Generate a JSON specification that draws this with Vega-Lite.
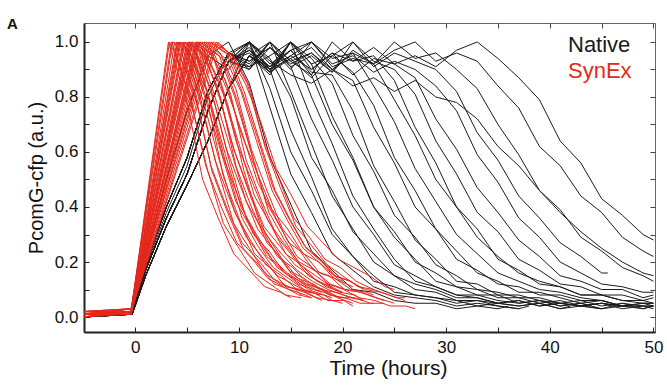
{
"$schema": "https://vega.github.io/schema/vega-lite/v6.json",
"width": 571, "height": 309,
"autosize": {"type": "none"},
"padding": {"left": 84, "top": 23, "right": 12, "bottom": 53},
"background": "white",
"config": {"font": "Liberation Sans", "view": {"stroke": "#666", "strokeWidth": 1}},
"title": {"text": "A", "anchor": "start", "frame": "group", "dx": -77, "dy": 21, "offset": 0, "baseline": "alphabetic", "fontSize": 15, "fontWeight": "bold", "color": "#111"},
"data": {"values": [
{"g":"N","c":1,"t":-5,"v":0.01},{"g":"N","c":1,"t":-0.3,"v":0.02},{"g":"N","c":1,"t":1,"v":0.22},{"g":"N","c":1,"t":3,"v":0.5},{"g":"N","c":1,"t":5,"v":0.75},{"g":"N","c":1,"t":7,"v":0.95},{"g":"N","c":1,"t":9,"v":1.0},{"g":"N","c":1,"t":11,"v":0.85},{"g":"N","c":1,"t":13,"v":0.58},{"g":"N","c":1,"t":15,"v":0.41},{"g":"N","c":1,"t":17,"v":0.24},{"g":"N","c":1,"t":19,"v":0.17},{"g":"N","c":1,"t":21,"v":0.1},{"g":"N","c":1,"t":23,"v":0.09},{"g":"N","c":1,"t":25,"v":0.06},{"g":"N","c":1,"t":27,"v":0.05},{"g":"N","c":1,"t":29,"v":0.05},{"g":"N","c":1,"t":31,"v":0.03},{"g":"N","c":1,"t":33,"v":0.04},{"g":"N","c":1,"t":35,"v":0.03},{"g":"N","c":1,"t":36,"v":0.04},
{"g":"N","c":2,"t":-5,"v":0.01},{"g":"N","c":2,"t":-0.3,"v":0.02},{"g":"N","c":2,"t":1,"v":0.17},{"g":"N","c":2,"t":3,"v":0.36},{"g":"N","c":2,"t":5,"v":0.52},{"g":"N","c":2,"t":7,"v":0.75},{"g":"N","c":2,"t":9,"v":0.93},{"g":"N","c":2,"t":11,"v":1.0},{"g":"N","c":2,"t":13,"v":0.76},{"g":"N","c":2,"t":15,"v":0.52},{"g":"N","c":2,"t":17,"v":0.38},{"g":"N","c":2,"t":19,"v":0.23},{"g":"N","c":2,"t":21,"v":0.17},{"g":"N","c":2,"t":23,"v":0.11},{"g":"N","c":2,"t":25,"v":0.08},{"g":"N","c":2,"t":27,"v":0.07},{"g":"N","c":2,"t":29,"v":0.06},{"g":"N","c":2,"t":31,"v":0.04},{"g":"N","c":2,"t":33,"v":0.05},{"g":"N","c":2,"t":35,"v":0.04},{"g":"N","c":2,"t":37,"v":0.03},{"g":"N","c":2,"t":38,"v":0.04},
{"g":"N","c":3,"t":-5,"v":0.02},{"g":"N","c":3,"t":-0.3,"v":0.02},{"g":"N","c":3,"t":1,"v":0.19},{"g":"N","c":3,"t":3,"v":0.4},{"g":"N","c":3,"t":5,"v":0.58},{"g":"N","c":3,"t":7,"v":0.82},{"g":"N","c":3,"t":9,"v":0.96},{"g":"N","c":3,"t":11,"v":1.0},{"g":"N","c":3,"t":13,"v":0.83},{"g":"N","c":3,"t":15,"v":0.6},{"g":"N","c":3,"t":17,"v":0.46},{"g":"N","c":3,"t":19,"v":0.3},{"g":"N","c":3,"t":21,"v":0.22},{"g":"N","c":3,"t":23,"v":0.13},{"g":"N","c":3,"t":25,"v":0.11},{"g":"N","c":3,"t":27,"v":0.08},{"g":"N","c":3,"t":29,"v":0.07},{"g":"N","c":3,"t":31,"v":0.06},{"g":"N","c":3,"t":33,"v":0.04},{"g":"N","c":3,"t":35,"v":0.05},{"g":"N","c":3,"t":37,"v":0.04},{"g":"N","c":3,"t":39,"v":0.05},{"g":"N","c":3,"t":41,"v":0.03},{"g":"N","c":3,"t":42,"v":0.04},
{"g":"N","c":4,"t":-5,"v":0.0},{"g":"N","c":4,"t":-0.3,"v":0.01},{"g":"N","c":4,"t":1,"v":0.15},{"g":"N","c":4,"t":3,"v":0.33},{"g":"N","c":4,"t":5,"v":0.48},{"g":"N","c":4,"t":7,"v":0.64},{"g":"N","c":4,"t":9,"v":0.83},{"g":"N","c":4,"t":11,"v":1.0},{"g":"N","c":4,"t":13,"v":0.9},{"g":"N","c":4,"t":15,"v":0.68},{"g":"N","c":4,"t":17,"v":0.51},{"g":"N","c":4,"t":19,"v":0.32},{"g":"N","c":4,"t":21,"v":0.22},{"g":"N","c":4,"t":23,"v":0.15},{"g":"N","c":4,"t":25,"v":0.09},{"g":"N","c":4,"t":27,"v":0.08},{"g":"N","c":4,"t":29,"v":0.07},{"g":"N","c":4,"t":31,"v":0.05},{"g":"N","c":4,"t":33,"v":0.06},{"g":"N","c":4,"t":35,"v":0.04},{"g":"N","c":4,"t":37,"v":0.03},
{"g":"N","c":5,"t":-5,"v":0.01},{"g":"N","c":5,"t":-0.3,"v":0.02},{"g":"N","c":5,"t":1,"v":0.17},{"g":"N","c":5,"t":3,"v":0.36},{"g":"N","c":5,"t":5,"v":0.52},{"g":"N","c":5,"t":7,"v":0.75},{"g":"N","c":5,"t":9,"v":0.93},{"g":"N","c":5,"t":11,"v":1.0},{"g":"N","c":5,"t":13,"v":0.94},{"g":"N","c":5,"t":15,"v":0.8},{"g":"N","c":5,"t":17,"v":0.58},{"g":"N","c":5,"t":19,"v":0.46},{"g":"N","c":5,"t":21,"v":0.31},{"g":"N","c":5,"t":23,"v":0.23},{"g":"N","c":5,"t":25,"v":0.15},{"g":"N","c":5,"t":27,"v":0.12},{"g":"N","c":5,"t":29,"v":0.1},{"g":"N","c":5,"t":31,"v":0.07},{"g":"N","c":5,"t":33,"v":0.07},{"g":"N","c":5,"t":35,"v":0.05},{"g":"N","c":5,"t":37,"v":0.06},{"g":"N","c":5,"t":39,"v":0.04},{"g":"N","c":5,"t":41,"v":0.05},{"g":"N","c":5,"t":43,"v":0.04},{"g":"N","c":5,"t":45,"v":0.03},
{"g":"N","c":6,"t":-5,"v":0.02},{"g":"N","c":6,"t":-0.3,"v":0.02},{"g":"N","c":6,"t":1,"v":0.19},{"g":"N","c":6,"t":3,"v":0.4},{"g":"N","c":6,"t":5,"v":0.58},{"g":"N","c":6,"t":7,"v":0.82},{"g":"N","c":6,"t":9,"v":0.96},{"g":"N","c":6,"t":11,"v":0.92},{"g":"N","c":6,"t":13,"v":1.0},{"g":"N","c":6,"t":15,"v":0.82},{"g":"N","c":6,"t":17,"v":0.63},{"g":"N","c":6,"t":19,"v":0.44},{"g":"N","c":6,"t":21,"v":0.32},{"g":"N","c":6,"t":23,"v":0.2},{"g":"N","c":6,"t":25,"v":0.15},{"g":"N","c":6,"t":27,"v":0.1},{"g":"N","c":6,"t":29,"v":0.09},{"g":"N","c":6,"t":31,"v":0.06},{"g":"N","c":6,"t":33,"v":0.06},{"g":"N","c":6,"t":35,"v":0.05},{"g":"N","c":6,"t":37,"v":0.04},{"g":"N","c":6,"t":39,"v":0.05},{"g":"N","c":6,"t":41,"v":0.03},{"g":"N","c":6,"t":43,"v":0.04},{"g":"N","c":6,"t":45,"v":0.05},{"g":"N","c":6,"t":47,"v":0.03},{"g":"N","c":6,"t":49,"v":0.04},{"g":"N","c":6,"t":50,"v":0.04},
{"g":"N","c":7,"t":-5,"v":0.0},{"g":"N","c":7,"t":-0.3,"v":0.01},{"g":"N","c":7,"t":1,"v":0.15},{"g":"N","c":7,"t":3,"v":0.33},{"g":"N","c":7,"t":5,"v":0.48},{"g":"N","c":7,"t":7,"v":0.64},{"g":"N","c":7,"t":9,"v":0.83},{"g":"N","c":7,"t":11,"v":0.95},{"g":"N","c":7,"t":13,"v":1.0},{"g":"N","c":7,"t":15,"v":0.91},{"g":"N","c":7,"t":17,"v":0.72},{"g":"N","c":7,"t":19,"v":0.57},{"g":"N","c":7,"t":21,"v":0.4},{"g":"N","c":7,"t":23,"v":0.3},{"g":"N","c":7,"t":25,"v":0.19},{"g":"N","c":7,"t":27,"v":0.15},{"g":"N","c":7,"t":29,"v":0.11},{"g":"N","c":7,"t":31,"v":0.08},{"g":"N","c":7,"t":33,"v":0.08},{"g":"N","c":7,"t":35,"v":0.06},{"g":"N","c":7,"t":37,"v":0.05},{"g":"N","c":7,"t":39,"v":0.06},{"g":"N","c":7,"t":41,"v":0.04},{"g":"N","c":7,"t":43,"v":0.05},{"g":"N","c":7,"t":45,"v":0.03},{"g":"N","c":7,"t":47,"v":0.04},{"g":"N","c":7,"t":48,"v":0.04},
{"g":"N","c":8,"t":-5,"v":0.01},{"g":"N","c":8,"t":-0.3,"v":0.02},{"g":"N","c":8,"t":1,"v":0.17},{"g":"N","c":8,"t":3,"v":0.36},{"g":"N","c":8,"t":5,"v":0.52},{"g":"N","c":8,"t":7,"v":0.75},{"g":"N","c":8,"t":9,"v":0.93},{"g":"N","c":8,"t":11,"v":0.97},{"g":"N","c":8,"t":13,"v":0.91},{"g":"N","c":8,"t":15,"v":1.0},{"g":"N","c":8,"t":17,"v":0.8},{"g":"N","c":8,"t":19,"v":0.63},{"g":"N","c":8,"t":21,"v":0.44},{"g":"N","c":8,"t":23,"v":0.32},{"g":"N","c":8,"t":25,"v":0.21},{"g":"N","c":8,"t":27,"v":0.13},{"g":"N","c":8,"t":29,"v":0.11},{"g":"N","c":8,"t":31,"v":0.08},{"g":"N","c":8,"t":33,"v":0.07},{"g":"N","c":8,"t":35,"v":0.05},{"g":"N","c":8,"t":37,"v":0.06},{"g":"N","c":8,"t":39,"v":0.04},{"g":"N","c":8,"t":41,"v":0.05},{"g":"N","c":8,"t":43,"v":0.04},{"g":"N","c":8,"t":45,"v":0.03},{"g":"N","c":8,"t":47,"v":0.05},{"g":"N","c":8,"t":49,"v":0.04},{"g":"N","c":8,"t":50,"v":0.04},
{"g":"N","c":9,"t":-5,"v":0.02},{"g":"N","c":9,"t":-0.3,"v":0.02},{"g":"N","c":9,"t":1,"v":0.19},{"g":"N","c":9,"t":3,"v":0.4},{"g":"N","c":9,"t":5,"v":0.58},{"g":"N","c":9,"t":7,"v":0.82},{"g":"N","c":9,"t":9,"v":0.96},{"g":"N","c":9,"t":11,"v":0.9},{"g":"N","c":9,"t":13,"v":1.0},{"g":"N","c":9,"t":15,"v":0.93},{"g":"N","c":9,"t":17,"v":0.88},{"g":"N","c":9,"t":19,"v":0.7},{"g":"N","c":9,"t":21,"v":0.57},{"g":"N","c":9,"t":23,"v":0.4},{"g":"N","c":9,"t":25,"v":0.31},{"g":"N","c":9,"t":27,"v":0.2},{"g":"N","c":9,"t":29,"v":0.16},{"g":"N","c":9,"t":31,"v":0.11},{"g":"N","c":9,"t":33,"v":0.1},{"g":"N","c":9,"t":35,"v":0.07},{"g":"N","c":9,"t":37,"v":0.07},{"g":"N","c":9,"t":39,"v":0.05},{"g":"N","c":9,"t":41,"v":0.06},{"g":"N","c":9,"t":43,"v":0.04},{"g":"N","c":9,"t":45,"v":0.05},{"g":"N","c":9,"t":47,"v":0.04},{"g":"N","c":9,"t":49,"v":0.03},{"g":"N","c":9,"t":50,"v":0.04},
{"g":"N","c":10,"t":-5,"v":0.0},{"g":"N","c":10,"t":-0.3,"v":0.01},{"g":"N","c":10,"t":1,"v":0.15},{"g":"N","c":10,"t":3,"v":0.33},{"g":"N","c":10,"t":5,"v":0.48},{"g":"N","c":10,"t":7,"v":0.64},{"g":"N","c":10,"t":9,"v":0.83},{"g":"N","c":10,"t":11,"v":0.95},{"g":"N","c":10,"t":13,"v":0.89},{"g":"N","c":10,"t":15,"v":1.0},{"g":"N","c":10,"t":17,"v":0.92},{"g":"N","c":10,"t":19,"v":0.73},{"g":"N","c":10,"t":21,"v":0.58},{"g":"N","c":10,"t":23,"v":0.4},{"g":"N","c":10,"t":25,"v":0.29},{"g":"N","c":10,"t":27,"v":0.21},{"g":"N","c":10,"t":29,"v":0.13},{"g":"N","c":10,"t":31,"v":0.11},{"g":"N","c":10,"t":33,"v":0.08},{"g":"N","c":10,"t":35,"v":0.08},{"g":"N","c":10,"t":37,"v":0.05},{"g":"N","c":10,"t":39,"v":0.06},{"g":"N","c":10,"t":41,"v":0.04},{"g":"N","c":10,"t":43,"v":0.05},{"g":"N","c":10,"t":44,"v":0.04},
{"g":"N","c":11,"t":-5,"v":0.01},{"g":"N","c":11,"t":-0.3,"v":0.02},{"g":"N","c":11,"t":1,"v":0.17},{"g":"N","c":11,"t":3,"v":0.36},{"g":"N","c":11,"t":5,"v":0.52},{"g":"N","c":11,"t":7,"v":0.75},{"g":"N","c":11,"t":9,"v":0.93},{"g":"N","c":11,"t":11,"v":0.98},{"g":"N","c":11,"t":13,"v":0.9},{"g":"N","c":11,"t":15,"v":1.0},{"g":"N","c":11,"t":17,"v":0.94},{"g":"N","c":11,"t":19,"v":0.85},{"g":"N","c":11,"t":21,"v":0.66},{"g":"N","c":11,"t":23,"v":0.53},{"g":"N","c":11,"t":25,"v":0.37},{"g":"N","c":11,"t":27,"v":0.29},{"g":"N","c":11,"t":29,"v":0.19},{"g":"N","c":11,"t":31,"v":0.15},{"g":"N","c":11,"t":33,"v":0.1},{"g":"N","c":11,"t":35,"v":0.09},{"g":"N","c":11,"t":37,"v":0.07},{"g":"N","c":11,"t":39,"v":0.07},{"g":"N","c":11,"t":41,"v":0.05},{"g":"N","c":11,"t":43,"v":0.06},{"g":"N","c":11,"t":45,"v":0.04},{"g":"N","c":11,"t":47,"v":0.05},{"g":"N","c":11,"t":49,"v":0.03},{"g":"N","c":11,"t":50,"v":0.04},
{"g":"N","c":12,"t":-5,"v":0.01},{"g":"N","c":12,"t":-0.3,"v":0.02},{"g":"N","c":12,"t":1,"v":0.22},{"g":"N","c":12,"t":3,"v":0.5},{"g":"N","c":12,"t":5,"v":0.75},{"g":"N","c":12,"t":7,"v":0.95},{"g":"N","c":12,"t":9,"v":0.9},{"g":"N","c":12,"t":11,"v":1.0},{"g":"N","c":12,"t":13,"v":0.92},{"g":"N","c":12,"t":15,"v":0.97},{"g":"N","c":12,"t":17,"v":0.89},{"g":"N","c":12,"t":19,"v":0.88},{"g":"N","c":12,"t":21,"v":0.75},{"g":"N","c":12,"t":23,"v":0.55},{"g":"N","c":12,"t":25,"v":0.42},{"g":"N","c":12,"t":27,"v":0.28},{"g":"N","c":12,"t":29,"v":0.21},{"g":"N","c":12,"t":31,"v":0.13},{"g":"N","c":12,"t":33,"v":0.12},{"g":"N","c":12,"t":35,"v":0.08},{"g":"N","c":12,"t":37,"v":0.08},{"g":"N","c":12,"t":39,"v":0.06},{"g":"N","c":12,"t":41,"v":0.05},{"g":"N","c":12,"t":43,"v":0.04},{"g":"N","c":12,"t":45,"v":0.05},{"g":"N","c":12,"t":47,"v":0.04},{"g":"N","c":12,"t":49,"v":0.04},{"g":"N","c":12,"t":50,"v":0.03},
{"g":"N","c":13,"t":-5,"v":0.01},{"g":"N","c":13,"t":-0.3,"v":0.02},{"g":"N","c":13,"t":1,"v":0.17},{"g":"N","c":13,"t":3,"v":0.36},{"g":"N","c":13,"t":5,"v":0.52},{"g":"N","c":13,"t":7,"v":0.75},{"g":"N","c":13,"t":9,"v":0.93},{"g":"N","c":13,"t":11,"v":0.91},{"g":"N","c":13,"t":13,"v":1.0},{"g":"N","c":13,"t":15,"v":0.93},{"g":"N","c":13,"t":17,"v":0.96},{"g":"N","c":13,"t":19,"v":0.9},{"g":"N","c":13,"t":21,"v":0.86},{"g":"N","c":13,"t":23,"v":0.69},{"g":"N","c":13,"t":25,"v":0.56},{"g":"N","c":13,"t":27,"v":0.4},{"g":"N","c":13,"t":29,"v":0.32},{"g":"N","c":13,"t":31,"v":0.21},{"g":"N","c":13,"t":33,"v":0.17},{"g":"N","c":13,"t":35,"v":0.12},{"g":"N","c":13,"t":37,"v":0.11},{"g":"N","c":13,"t":39,"v":0.08},{"g":"N","c":13,"t":41,"v":0.08},{"g":"N","c":13,"t":43,"v":0.06},{"g":"N","c":13,"t":45,"v":0.06},{"g":"N","c":13,"t":47,"v":0.04},{"g":"N","c":13,"t":49,"v":0.05},{"g":"N","c":13,"t":50,"v":0.05},
{"g":"N","c":14,"t":-5,"v":0.0},{"g":"N","c":14,"t":-0.3,"v":0.01},{"g":"N","c":14,"t":1,"v":0.15},{"g":"N","c":14,"t":3,"v":0.33},{"g":"N","c":14,"t":5,"v":0.48},{"g":"N","c":14,"t":7,"v":0.64},{"g":"N","c":14,"t":9,"v":0.83},{"g":"N","c":14,"t":11,"v":0.95},{"g":"N","c":14,"t":13,"v":0.88},{"g":"N","c":14,"t":15,"v":1.0},{"g":"N","c":14,"t":17,"v":0.92},{"g":"N","c":14,"t":19,"v":0.95},{"g":"N","c":14,"t":21,"v":0.89},{"g":"N","c":14,"t":23,"v":0.77},{"g":"N","c":14,"t":25,"v":0.58},{"g":"N","c":14,"t":27,"v":0.46},{"g":"N","c":14,"t":29,"v":0.32},{"g":"N","c":14,"t":31,"v":0.24},{"g":"N","c":14,"t":33,"v":0.16},{"g":"N","c":14,"t":35,"v":0.13},{"g":"N","c":14,"t":37,"v":0.09},{"g":"N","c":14,"t":39,"v":0.09},{"g":"N","c":14,"t":41,"v":0.07},{"g":"N","c":14,"t":43,"v":0.05},{"g":"N","c":14,"t":45,"v":0.06},{"g":"N","c":14,"t":47,"v":0.04},{"g":"N","c":14,"t":49,"v":0.05},{"g":"N","c":14,"t":50,"v":0.04},
{"g":"N","c":15,"t":-5,"v":0.02},{"g":"N","c":15,"t":-0.3,"v":0.02},{"g":"N","c":15,"t":1,"v":0.19},{"g":"N","c":15,"t":3,"v":0.4},{"g":"N","c":15,"t":5,"v":0.58},{"g":"N","c":15,"t":7,"v":0.82},{"g":"N","c":15,"t":9,"v":0.96},{"g":"N","c":15,"t":11,"v":0.93},{"g":"N","c":15,"t":13,"v":0.98},{"g":"N","c":15,"t":15,"v":0.9},{"g":"N","c":15,"t":17,"v":1.0},{"g":"N","c":15,"t":19,"v":0.94},{"g":"N","c":15,"t":21,"v":0.96},{"g":"N","c":15,"t":23,"v":0.84},{"g":"N","c":15,"t":25,"v":0.71},{"g":"N","c":15,"t":27,"v":0.54},{"g":"N","c":15,"t":29,"v":0.42},{"g":"N","c":15,"t":31,"v":0.3},{"g":"N","c":15,"t":33,"v":0.23},{"g":"N","c":15,"t":35,"v":0.16},{"g":"N","c":15,"t":37,"v":0.13},{"g":"N","c":15,"t":39,"v":0.1},{"g":"N","c":15,"t":41,"v":0.09},{"g":"N","c":15,"t":43,"v":0.07},{"g":"N","c":15,"t":45,"v":0.06},{"g":"N","c":15,"t":46,"v":0.05},
{"g":"N","c":16,"t":-5,"v":0.01},{"g":"N","c":16,"t":-0.3,"v":0.02},{"g":"N","c":16,"t":1,"v":0.17},{"g":"N","c":16,"t":3,"v":0.36},{"g":"N","c":16,"t":5,"v":0.52},{"g":"N","c":16,"t":7,"v":0.75},{"g":"N","c":16,"t":9,"v":0.93},{"g":"N","c":16,"t":11,"v":0.97},{"g":"N","c":16,"t":13,"v":0.89},{"g":"N","c":16,"t":15,"v":0.95},{"g":"N","c":16,"t":17,"v":1.0},{"g":"N","c":16,"t":19,"v":0.91},{"g":"N","c":16,"t":21,"v":0.94},{"g":"N","c":16,"t":23,"v":0.92},{"g":"N","c":16,"t":25,"v":0.79},{"g":"N","c":16,"t":27,"v":0.66},{"g":"N","c":16,"t":29,"v":0.5},{"g":"N","c":16,"t":31,"v":0.4},{"g":"N","c":16,"t":33,"v":0.29},{"g":"N","c":16,"t":35,"v":0.22},{"g":"N","c":16,"t":37,"v":0.16},{"g":"N","c":16,"t":39,"v":0.13},{"g":"N","c":16,"t":41,"v":0.11},{"g":"N","c":16,"t":43,"v":0.08},{"g":"N","c":16,"t":45,"v":0.08},{"g":"N","c":16,"t":47,"v":0.06},{"g":"N","c":16,"t":49,"v":0.06},{"g":"N","c":16,"t":50,"v":0.05},
{"g":"N","c":17,"t":-5,"v":0.0},{"g":"N","c":17,"t":-0.3,"v":0.01},{"g":"N","c":17,"t":1,"v":0.15},{"g":"N","c":17,"t":3,"v":0.33},{"g":"N","c":17,"t":5,"v":0.48},{"g":"N","c":17,"t":7,"v":0.64},{"g":"N","c":17,"t":9,"v":0.83},{"g":"N","c":17,"t":11,"v":0.95},{"g":"N","c":17,"t":13,"v":0.9},{"g":"N","c":17,"t":15,"v":0.97},{"g":"N","c":17,"t":17,"v":0.88},{"g":"N","c":17,"t":19,"v":1.0},{"g":"N","c":17,"t":21,"v":0.93},{"g":"N","c":17,"t":23,"v":0.95},{"g":"N","c":17,"t":25,"v":0.86},{"g":"N","c":17,"t":27,"v":0.69},{"g":"N","c":17,"t":29,"v":0.56},{"g":"N","c":17,"t":31,"v":0.4},{"g":"N","c":17,"t":33,"v":0.32},{"g":"N","c":17,"t":35,"v":0.21},{"g":"N","c":17,"t":37,"v":0.17},{"g":"N","c":17,"t":39,"v":0.12},{"g":"N","c":17,"t":41,"v":0.11},{"g":"N","c":17,"t":43,"v":0.08},{"g":"N","c":17,"t":45,"v":0.08},{"g":"N","c":17,"t":47,"v":0.06},{"g":"N","c":17,"t":49,"v":0.05},{"g":"N","c":17,"t":50,"v":0.05},
{"g":"N","c":18,"t":-5,"v":0.01},{"g":"N","c":18,"t":-0.3,"v":0.02},{"g":"N","c":18,"t":1,"v":0.17},{"g":"N","c":18,"t":3,"v":0.36},{"g":"N","c":18,"t":5,"v":0.52},{"g":"N","c":18,"t":7,"v":0.75},{"g":"N","c":18,"t":9,"v":0.93},{"g":"N","c":18,"t":11,"v":0.9},{"g":"N","c":18,"t":13,"v":0.98},{"g":"N","c":18,"t":15,"v":0.92},{"g":"N","c":18,"t":17,"v":0.96},{"g":"N","c":18,"t":19,"v":0.89},{"g":"N","c":18,"t":21,"v":1.0},{"g":"N","c":18,"t":23,"v":0.93},{"g":"N","c":18,"t":25,"v":0.9},{"g":"N","c":18,"t":27,"v":0.81},{"g":"N","c":18,"t":29,"v":0.64},{"g":"N","c":18,"t":31,"v":0.52},{"g":"N","c":18,"t":33,"v":0.38},{"g":"N","c":18,"t":35,"v":0.31},{"g":"N","c":18,"t":37,"v":0.21},{"g":"N","c":18,"t":39,"v":0.17},{"g":"N","c":18,"t":41,"v":0.12},{"g":"N","c":18,"t":43,"v":0.11},{"g":"N","c":18,"t":45,"v":0.08},{"g":"N","c":18,"t":47,"v":0.08},{"g":"N","c":18,"t":49,"v":0.06},{"g":"N","c":18,"t":50,"v":0.07},
{"g":"N","c":19,"t":-5,"v":0.02},{"g":"N","c":19,"t":-0.3,"v":0.02},{"g":"N","c":19,"t":1,"v":0.19},{"g":"N","c":19,"t":3,"v":0.4},{"g":"N","c":19,"t":5,"v":0.58},{"g":"N","c":19,"t":7,"v":0.82},{"g":"N","c":19,"t":9,"v":0.96},{"g":"N","c":19,"t":11,"v":0.91},{"g":"N","c":19,"t":13,"v":0.95},{"g":"N","c":19,"t":15,"v":1.0},{"g":"N","c":19,"t":17,"v":0.9},{"g":"N","c":19,"t":19,"v":0.96},{"g":"N","c":19,"t":21,"v":0.88},{"g":"N","c":19,"t":23,"v":0.94},{"g":"N","c":19,"t":25,"v":0.92},{"g":"N","c":19,"t":27,"v":0.87},{"g":"N","c":19,"t":29,"v":0.72},{"g":"N","c":19,"t":31,"v":0.61},{"g":"N","c":19,"t":33,"v":0.47},{"g":"N","c":19,"t":35,"v":0.38},{"g":"N","c":19,"t":37,"v":0.28},{"g":"N","c":19,"t":39,"v":0.22},{"g":"N","c":19,"t":41,"v":0.15},{"g":"N","c":19,"t":43,"v":0.13},{"g":"N","c":19,"t":45,"v":0.1},{"g":"N","c":19,"t":47,"v":0.1},{"g":"N","c":19,"t":49,"v":0.07},{"g":"N","c":19,"t":50,"v":0.08},
{"g":"N","c":20,"t":-5,"v":0.0},{"g":"N","c":20,"t":-0.3,"v":0.01},{"g":"N","c":20,"t":1,"v":0.15},{"g":"N","c":20,"t":3,"v":0.33},{"g":"N","c":20,"t":5,"v":0.48},{"g":"N","c":20,"t":7,"v":0.64},{"g":"N","c":20,"t":9,"v":0.83},{"g":"N","c":20,"t":11,"v":0.95},{"g":"N","c":20,"t":13,"v":0.91},{"g":"N","c":20,"t":15,"v":0.97},{"g":"N","c":20,"t":17,"v":1.0},{"g":"N","c":20,"t":19,"v":0.92},{"g":"N","c":20,"t":21,"v":0.95},{"g":"N","c":20,"t":23,"v":0.89},{"g":"N","c":20,"t":25,"v":0.93},{"g":"N","c":20,"t":27,"v":0.9},{"g":"N","c":20,"t":29,"v":0.84},{"g":"N","c":20,"t":31,"v":0.75},{"g":"N","c":20,"t":33,"v":0.59},{"g":"N","c":20,"t":35,"v":0.49},{"g":"N","c":20,"t":37,"v":0.36},{"g":"N","c":20,"t":39,"v":0.29},{"g":"N","c":20,"t":41,"v":0.2},{"g":"N","c":20,"t":43,"v":0.16},{"g":"N","c":20,"t":45,"v":0.12},{"g":"N","c":20,"t":47,"v":0.11},{"g":"N","c":20,"t":49,"v":0.09},{"g":"N","c":20,"t":50,"v":0.09},
{"g":"N","c":21,"t":-5,"v":0.01},{"g":"N","c":21,"t":-0.3,"v":0.02},{"g":"N","c":21,"t":1,"v":0.17},{"g":"N","c":21,"t":3,"v":0.36},{"g":"N","c":21,"t":5,"v":0.52},{"g":"N","c":21,"t":7,"v":0.75},{"g":"N","c":21,"t":9,"v":0.93},{"g":"N","c":21,"t":11,"v":0.96},{"g":"N","c":21,"t":13,"v":0.9},{"g":"N","c":21,"t":15,"v":0.94},{"g":"N","c":21,"t":17,"v":0.87},{"g":"N","c":21,"t":19,"v":0.95},{"g":"N","c":21,"t":21,"v":1.0},{"g":"N","c":21,"t":23,"v":0.91},{"g":"N","c":21,"t":25,"v":0.96},{"g":"N","c":21,"t":27,"v":0.93},{"g":"N","c":21,"t":29,"v":0.9},{"g":"N","c":21,"t":31,"v":0.82},{"g":"N","c":21,"t":33,"v":0.67},{"g":"N","c":21,"t":35,"v":0.57},{"g":"N","c":21,"t":37,"v":0.44},{"g":"N","c":21,"t":39,"v":0.36},{"g":"N","c":21,"t":41,"v":0.27},{"g":"N","c":21,"t":43,"v":0.22},{"g":"N","c":21,"t":45,"v":0.16},{"g":"N","c":21,"t":45.6,"v":0.16},
{"g":"N","c":22,"t":-5,"v":0.02},{"g":"N","c":22,"t":-0.3,"v":0.02},{"g":"N","c":22,"t":1,"v":0.19},{"g":"N","c":22,"t":3,"v":0.4},{"g":"N","c":22,"t":5,"v":0.58},{"g":"N","c":22,"t":7,"v":0.82},{"g":"N","c":22,"t":9,"v":0.96},{"g":"N","c":22,"t":11,"v":0.93},{"g":"N","c":22,"t":13,"v":0.98},{"g":"N","c":22,"t":15,"v":0.91},{"g":"N","c":22,"t":17,"v":0.95},{"g":"N","c":22,"t":19,"v":0.89},{"g":"N","c":22,"t":21,"v":0.97},{"g":"N","c":22,"t":23,"v":0.92},{"g":"N","c":22,"t":25,"v":1.0},{"g":"N","c":22,"t":27,"v":0.94},{"g":"N","c":22,"t":29,"v":0.96},{"g":"N","c":22,"t":31,"v":0.9},{"g":"N","c":22,"t":33,"v":0.83},{"g":"N","c":22,"t":35,"v":0.7},{"g":"N","c":22,"t":37,"v":0.59},{"g":"N","c":22,"t":39,"v":0.46},{"g":"N","c":22,"t":41,"v":0.39},{"g":"N","c":22,"t":43,"v":0.29},{"g":"N","c":22,"t":45,"v":0.24},{"g":"N","c":22,"t":47,"v":0.18},{"g":"N","c":22,"t":49,"v":0.15},{"g":"N","c":22,"t":50,"v":0.13},
{"g":"N","c":23,"t":-5,"v":0.0},{"g":"N","c":23,"t":-0.3,"v":0.01},{"g":"N","c":23,"t":1,"v":0.15},{"g":"N","c":23,"t":3,"v":0.33},{"g":"N","c":23,"t":5,"v":0.48},{"g":"N","c":23,"t":7,"v":0.64},{"g":"N","c":23,"t":9,"v":0.83},{"g":"N","c":23,"t":11,"v":0.95},{"g":"N","c":23,"t":13,"v":0.89},{"g":"N","c":23,"t":15,"v":0.94},{"g":"N","c":23,"t":17,"v":0.98},{"g":"N","c":23,"t":19,"v":0.9},{"g":"N","c":23,"t":21,"v":0.96},{"g":"N","c":23,"t":23,"v":0.92},{"g":"N","c":23,"t":25,"v":0.97},{"g":"N","c":23,"t":27,"v":1.0},{"g":"N","c":23,"t":29,"v":0.93},{"g":"N","c":23,"t":31,"v":0.96},{"g":"N","c":23,"t":33,"v":0.93},{"g":"N","c":23,"t":35,"v":0.84},{"g":"N","c":23,"t":37,"v":0.76},{"g":"N","c":23,"t":39,"v":0.62},{"g":"N","c":23,"t":41,"v":0.55},{"g":"N","c":23,"t":43,"v":0.44},{"g":"N","c":23,"t":45,"v":0.38},{"g":"N","c":23,"t":47,"v":0.29},{"g":"N","c":23,"t":49,"v":0.24},{"g":"N","c":23,"t":50,"v":0.22},
{"g":"N","c":24,"t":-5,"v":0.01},{"g":"N","c":24,"t":-0.3,"v":0.02},{"g":"N","c":24,"t":1,"v":0.17},{"g":"N","c":24,"t":3,"v":0.36},{"g":"N","c":24,"t":5,"v":0.52},{"g":"N","c":24,"t":7,"v":0.75},{"g":"N","c":24,"t":9,"v":0.93},{"g":"N","c":24,"t":11,"v":0.97},{"g":"N","c":24,"t":13,"v":0.91},{"g":"N","c":24,"t":15,"v":0.95},{"g":"N","c":24,"t":17,"v":0.9},{"g":"N","c":24,"t":19,"v":0.96},{"g":"N","c":24,"t":21,"v":0.93},{"g":"N","c":24,"t":23,"v":0.98},{"g":"N","c":24,"t":25,"v":0.92},{"g":"N","c":24,"t":27,"v":0.95},{"g":"N","c":24,"t":29,"v":0.91},{"g":"N","c":24,"t":31,"v":0.97},{"g":"N","c":24,"t":33,"v":1.0},{"g":"N","c":24,"t":35,"v":0.94},{"g":"N","c":24,"t":37,"v":0.87},{"g":"N","c":24,"t":39,"v":0.79},{"g":"N","c":24,"t":41,"v":0.64},{"g":"N","c":24,"t":43,"v":0.56},{"g":"N","c":24,"t":45,"v":0.43},{"g":"N","c":24,"t":47,"v":0.37},{"g":"N","c":24,"t":49,"v":0.3},{"g":"N","c":24,"t":50,"v":0.28},
{"g":"N","c":25,"t":-5,"v":0.01},{"g":"N","c":25,"t":-0.3,"v":0.02},{"g":"N","c":25,"t":1,"v":0.18},{"g":"N","c":25,"t":3,"v":0.38},{"g":"N","c":25,"t":5,"v":0.55},{"g":"N","c":25,"t":7,"v":0.8},{"g":"N","c":25,"t":9,"v":0.95},{"g":"N","c":25,"t":11,"v":1.0},{"g":"N","c":25,"t":13,"v":0.93},{"g":"N","c":25,"t":15,"v":0.88},{"g":"N","c":25,"t":17,"v":0.85},{"g":"N","c":25,"t":19,"v":0.9},{"g":"N","c":25,"t":21,"v":0.84},{"g":"N","c":25,"t":23,"v":0.87},{"g":"N","c":25,"t":25,"v":0.82},{"g":"N","c":25,"t":27,"v":0.86},{"g":"N","c":25,"t":29,"v":0.8},{"g":"N","c":25,"t":31,"v":0.78},{"g":"N","c":25,"t":33,"v":0.72},{"g":"N","c":25,"t":35,"v":0.62},{"g":"N","c":25,"t":37,"v":0.55},{"g":"N","c":25,"t":39,"v":0.46},{"g":"N","c":25,"t":41,"v":0.38},{"g":"N","c":25,"t":43,"v":0.31},{"g":"N","c":25,"t":45,"v":0.25},{"g":"N","c":25,"t":47,"v":0.2},{"g":"N","c":25,"t":49,"v":0.16},{"g":"N","c":25,"t":50,"v":0.15},
{"g":"S","c":101,"t":-5,"v":0.01},{"g":"S","c":101,"t":-0.4,"v":0.02},{"g":"S","c":101,"t":3.2,"v":1.0},{"g":"S","c":101,"t":3.5,"v":0.96},{"g":"S","c":101,"t":5,"v":0.78},{"g":"S","c":101,"t":6.5,"v":0.5},{"g":"S","c":101,"t":8,"v":0.36},{"g":"S","c":101,"t":9.5,"v":0.23},{"g":"S","c":101,"t":11,"v":0.17},{"g":"S","c":101,"t":12.5,"v":0.11},{"g":"S","c":101,"t":14,"v":0.09},{"g":"S","c":101,"t":15,"v":0.07},
{"g":"S","c":102,"t":-5,"v":0.0},{"g":"S","c":102,"t":-0.4,"v":0.03},{"g":"S","c":102,"t":3.5,"v":1.0},{"g":"S","c":102,"t":4,"v":0.95},{"g":"S","c":102,"t":5.5,"v":0.76},{"g":"S","c":102,"t":7,"v":0.53},{"g":"S","c":102,"t":8.5,"v":0.34},{"g":"S","c":102,"t":10,"v":0.25},{"g":"S","c":102,"t":11.5,"v":0.16},{"g":"S","c":102,"t":13,"v":0.12},{"g":"S","c":102,"t":14.5,"v":0.08},{"g":"S","c":102,"t":16,"v":0.07},
{"g":"S","c":103,"t":-5,"v":0.02},{"g":"S","c":103,"t":-0.4,"v":0.02},{"g":"S","c":103,"t":3.6,"v":1.0},{"g":"S","c":103,"t":4.4,"v":0.97},{"g":"S","c":103,"t":5.9,"v":0.79},{"g":"S","c":103,"t":7.4,"v":0.53},{"g":"S","c":103,"t":8.9,"v":0.38},{"g":"S","c":103,"t":10.4,"v":0.25},{"g":"S","c":103,"t":11.9,"v":0.19},{"g":"S","c":103,"t":13.4,"v":0.12},{"g":"S","c":103,"t":14.9,"v":0.1},{"g":"S","c":103,"t":16.4,"v":0.08},{"g":"S","c":103,"t":17,"v":0.07},
{"g":"S","c":104,"t":-5,"v":0.01},{"g":"S","c":104,"t":-0.4,"v":0.01},{"g":"S","c":104,"t":3.8,"v":1.0},{"g":"S","c":104,"t":4.3,"v":0.95},{"g":"S","c":104,"t":5.8,"v":0.8},{"g":"S","c":104,"t":7.3,"v":0.55},{"g":"S","c":104,"t":8.8,"v":0.4},{"g":"S","c":104,"t":10.3,"v":0.27},{"g":"S","c":104,"t":11.8,"v":0.21},{"g":"S","c":104,"t":13.3,"v":0.14},{"g":"S","c":104,"t":14.8,"v":0.11},{"g":"S","c":104,"t":16.3,"v":0.09},{"g":"S","c":104,"t":18,"v":0.06},
{"g":"S","c":105,"t":-5,"v":0.01},{"g":"S","c":105,"t":-0.4,"v":0.02},{"g":"S","c":105,"t":4,"v":1.0},{"g":"S","c":105,"t":5,"v":0.96},{"g":"S","c":105,"t":6.5,"v":0.75},{"g":"S","c":105,"t":8,"v":0.53},{"g":"S","c":105,"t":9.5,"v":0.34},{"g":"S","c":105,"t":11,"v":0.25},{"g":"S","c":105,"t":12.5,"v":0.16},{"g":"S","c":105,"t":14,"v":0.12},{"g":"S","c":105,"t":15.5,"v":0.1},{"g":"S","c":105,"t":16,"v":0.08},
{"g":"S","c":106,"t":-5,"v":0.02},{"g":"S","c":106,"t":-0.4,"v":0.03},{"g":"S","c":106,"t":4.1,"v":1.0},{"g":"S","c":106,"t":4.7,"v":0.96},{"g":"S","c":106,"t":6.2,"v":0.81},{"g":"S","c":106,"t":7.7,"v":0.57},{"g":"S","c":106,"t":9.2,"v":0.42},{"g":"S","c":106,"t":10.7,"v":0.29},{"g":"S","c":106,"t":12.2,"v":0.22},{"g":"S","c":106,"t":13.7,"v":0.15},{"g":"S","c":106,"t":15.2,"v":0.12},{"g":"S","c":106,"t":16.7,"v":0.09},{"g":"S","c":106,"t":18.2,"v":0.08},{"g":"S","c":106,"t":19,"v":0.06},
{"g":"S","c":107,"t":-5,"v":0.01},{"g":"S","c":107,"t":-0.4,"v":0.02},{"g":"S","c":107,"t":4.3,"v":1.0},{"g":"S","c":107,"t":5.5,"v":0.95},{"g":"S","c":107,"t":7,"v":0.78},{"g":"S","c":107,"t":8.5,"v":0.51},{"g":"S","c":107,"t":10,"v":0.36},{"g":"S","c":107,"t":11.5,"v":0.23},{"g":"S","c":107,"t":13,"v":0.18},{"g":"S","c":107,"t":14.5,"v":0.11},{"g":"S","c":107,"t":16,"v":0.1},{"g":"S","c":107,"t":17.5,"v":0.07},{"g":"S","c":107,"t":19,"v":0.06},{"g":"S","c":107,"t":20,"v":0.05},
{"g":"S","c":108,"t":-5,"v":0.0},{"g":"S","c":108,"t":-0.4,"v":0.02},{"g":"S","c":108,"t":4.4,"v":1.0},{"g":"S","c":108,"t":5.2,"v":0.97},{"g":"S","c":108,"t":6.7,"v":0.8},{"g":"S","c":108,"t":8.2,"v":0.61},{"g":"S","c":108,"t":9.7,"v":0.42},{"g":"S","c":108,"t":11.2,"v":0.32},{"g":"S","c":108,"t":12.7,"v":0.22},{"g":"S","c":108,"t":14.2,"v":0.17},{"g":"S","c":108,"t":15.7,"v":0.12},{"g":"S","c":108,"t":17.2,"v":0.1},{"g":"S","c":108,"t":18,"v":0.09},
{"g":"S","c":109,"t":-5,"v":0.02},{"g":"S","c":109,"t":-0.4,"v":0.01},{"g":"S","c":109,"t":4.6,"v":1.0},{"g":"S","c":109,"t":5.1,"v":0.96},{"g":"S","c":109,"t":6.6,"v":0.78},{"g":"S","c":109,"t":8.1,"v":0.57},{"g":"S","c":109,"t":9.6,"v":0.38},{"g":"S","c":109,"t":11.1,"v":0.28},{"g":"S","c":109,"t":12.6,"v":0.19},{"g":"S","c":109,"t":14.1,"v":0.15},{"g":"S","c":109,"t":15.6,"v":0.1},{"g":"S","c":109,"t":17.1,"v":0.09},{"g":"S","c":109,"t":18.6,"v":0.06},{"g":"S","c":109,"t":20.1,"v":0.06},{"g":"S","c":109,"t":21,"v":0.04},
{"g":"S","c":110,"t":-5,"v":0.01},{"g":"S","c":110,"t":-0.4,"v":0.03},{"g":"S","c":110,"t":4.7,"v":1.0},{"g":"S","c":110,"t":6.2,"v":0.94},{"g":"S","c":110,"t":7.7,"v":0.77},{"g":"S","c":110,"t":9.2,"v":0.55},{"g":"S","c":110,"t":10.7,"v":0.36},{"g":"S","c":110,"t":12.2,"v":0.26},{"g":"S","c":110,"t":13.7,"v":0.18},{"g":"S","c":110,"t":15.2,"v":0.14},{"g":"S","c":110,"t":16.7,"v":0.1},{"g":"S","c":110,"t":18.2,"v":0.08},{"g":"S","c":110,"t":19,"v":0.07},
{"g":"S","c":111,"t":-5,"v":0.01},{"g":"S","c":111,"t":-0.4,"v":0.02},{"g":"S","c":111,"t":4.8,"v":1.0},{"g":"S","c":111,"t":5.8,"v":0.96},{"g":"S","c":111,"t":7.3,"v":0.83},{"g":"S","c":111,"t":8.8,"v":0.61},{"g":"S","c":111,"t":10.3,"v":0.46},{"g":"S","c":111,"t":11.8,"v":0.32},{"g":"S","c":111,"t":13.3,"v":0.25},{"g":"S","c":111,"t":14.8,"v":0.17},{"g":"S","c":111,"t":16.3,"v":0.14},{"g":"S","c":111,"t":17.8,"v":0.1},{"g":"S","c":111,"t":19.3,"v":0.09},{"g":"S","c":111,"t":20.8,"v":0.07},{"g":"S","c":111,"t":22,"v":0.06},
{"g":"S","c":112,"t":-5,"v":0.02},{"g":"S","c":112,"t":-0.4,"v":0.02},{"g":"S","c":112,"t":5,"v":1.0},{"g":"S","c":112,"t":5.7,"v":0.97},{"g":"S","c":112,"t":7.2,"v":0.79},{"g":"S","c":112,"t":8.7,"v":0.59},{"g":"S","c":112,"t":10.2,"v":0.4},{"g":"S","c":112,"t":11.7,"v":0.3},{"g":"S","c":112,"t":13.2,"v":0.21},{"g":"S","c":112,"t":14.7,"v":0.16},{"g":"S","c":112,"t":16.2,"v":0.12},{"g":"S","c":112,"t":17,"v":0.1},
{"g":"S","c":113,"t":-5,"v":0.01},{"g":"S","c":113,"t":-0.4,"v":0.01},{"g":"S","c":113,"t":5.1,"v":1.0},{"g":"S","c":113,"t":6.7,"v":0.95},{"g":"S","c":113,"t":8.2,"v":0.8},{"g":"S","c":113,"t":9.7,"v":0.55},{"g":"S","c":113,"t":11.2,"v":0.4},{"g":"S","c":113,"t":12.7,"v":0.27},{"g":"S","c":113,"t":14.2,"v":0.21},{"g":"S","c":113,"t":15.7,"v":0.14},{"g":"S","c":113,"t":17.2,"v":0.12},{"g":"S","c":113,"t":18.7,"v":0.08},{"g":"S","c":113,"t":20.2,"v":0.07},{"g":"S","c":113,"t":21.7,"v":0.05},{"g":"S","c":113,"t":23,"v":0.05},
{"g":"S","c":114,"t":-5,"v":0.0},{"g":"S","c":114,"t":-0.4,"v":0.02},{"g":"S","c":114,"t":5.2,"v":1.0},{"g":"S","c":114,"t":6.4,"v":0.96},{"g":"S","c":114,"t":7.9,"v":0.84},{"g":"S","c":114,"t":9.4,"v":0.62},{"g":"S","c":114,"t":10.9,"v":0.47},{"g":"S","c":114,"t":12.4,"v":0.33},{"g":"S","c":114,"t":13.9,"v":0.26},{"g":"S","c":114,"t":15.4,"v":0.19},{"g":"S","c":114,"t":16.9,"v":0.15},{"g":"S","c":114,"t":18.4,"v":0.11},{"g":"S","c":114,"t":20,"v":0.09},
{"g":"S","c":115,"t":-5,"v":0.01},{"g":"S","c":115,"t":-0.4,"v":0.02},{"g":"S","c":115,"t":5.4,"v":1.0},{"g":"S","c":115,"t":6.2,"v":0.97},{"g":"S","c":115,"t":7.7,"v":0.8},{"g":"S","c":115,"t":9.2,"v":0.61},{"g":"S","c":115,"t":10.7,"v":0.42},{"g":"S","c":115,"t":12.2,"v":0.32},{"g":"S","c":115,"t":13.7,"v":0.22},{"g":"S","c":115,"t":15.2,"v":0.18},{"g":"S","c":115,"t":16.7,"v":0.12},{"g":"S","c":115,"t":18.2,"v":0.1},{"g":"S","c":115,"t":19.7,"v":0.07},{"g":"S","c":115,"t":21.2,"v":0.07},{"g":"S","c":115,"t":22.7,"v":0.05},{"g":"S","c":115,"t":24,"v":0.05},
{"g":"S","c":116,"t":-5,"v":0.02},{"g":"S","c":116,"t":-0.4,"v":0.03},{"g":"S","c":116,"t":5.5,"v":1.0},{"g":"S","c":116,"t":7.5,"v":0.95},{"g":"S","c":116,"t":9,"v":0.76},{"g":"S","c":116,"t":10.5,"v":0.53},{"g":"S","c":116,"t":12,"v":0.34},{"g":"S","c":116,"t":13.5,"v":0.25},{"g":"S","c":116,"t":15,"v":0.16},{"g":"S","c":116,"t":16.5,"v":0.12},{"g":"S","c":116,"t":18,"v":0.1},{"g":"S","c":116,"t":19.5,"v":0.07},{"g":"S","c":116,"t":21,"v":0.05},
{"g":"S","c":117,"t":-5,"v":0.01},{"g":"S","c":117,"t":-0.4,"v":0.02},{"g":"S","c":117,"t":5.6,"v":1.0},{"g":"S","c":117,"t":7,"v":0.94},{"g":"S","c":117,"t":8.5,"v":0.81},{"g":"S","c":117,"t":10,"v":0.63},{"g":"S","c":117,"t":11.5,"v":0.44},{"g":"S","c":117,"t":13,"v":0.34},{"g":"S","c":117,"t":14.5,"v":0.23},{"g":"S","c":117,"t":16,"v":0.19},{"g":"S","c":117,"t":17.5,"v":0.13},{"g":"S","c":117,"t":19,"v":0.11},
{"g":"S","c":118,"t":-5,"v":0.02},{"g":"S","c":118,"t":-0.4,"v":0.01},{"g":"S","c":118,"t":5.8,"v":1.0},{"g":"S","c":118,"t":6.8,"v":0.96},{"g":"S","c":118,"t":8.3,"v":0.84},{"g":"S","c":118,"t":9.8,"v":0.63},{"g":"S","c":118,"t":11.3,"v":0.49},{"g":"S","c":118,"t":12.8,"v":0.35},{"g":"S","c":118,"t":14.3,"v":0.27},{"g":"S","c":118,"t":15.8,"v":0.2},{"g":"S","c":118,"t":17.3,"v":0.17},{"g":"S","c":118,"t":18.8,"v":0.12},{"g":"S","c":118,"t":20.3,"v":0.1},{"g":"S","c":118,"t":21.8,"v":0.09},{"g":"S","c":118,"t":23.3,"v":0.07},{"g":"S","c":118,"t":25,"v":0.05},
{"g":"S","c":119,"t":-5,"v":0.01},{"g":"S","c":119,"t":-0.4,"v":0.02},{"g":"S","c":119,"t":5.9,"v":1.0},{"g":"S","c":119,"t":7.7,"v":0.95},{"g":"S","c":119,"t":9.2,"v":0.81},{"g":"S","c":119,"t":10.7,"v":0.57},{"g":"S","c":119,"t":12.2,"v":0.42},{"g":"S","c":119,"t":13.7,"v":0.29},{"g":"S","c":119,"t":15.2,"v":0.22},{"g":"S","c":119,"t":16.7,"v":0.15},{"g":"S","c":119,"t":18.2,"v":0.12},{"g":"S","c":119,"t":19.7,"v":0.09},{"g":"S","c":119,"t":21.2,"v":0.08},{"g":"S","c":119,"t":22,"v":0.06},
{"g":"S","c":120,"t":-5,"v":0.0},{"g":"S","c":120,"t":-0.4,"v":0.02},{"g":"S","c":120,"t":6,"v":1.0},{"g":"S","c":120,"t":7.2,"v":0.96},{"g":"S","c":120,"t":8.7,"v":0.86},{"g":"S","c":120,"t":10.2,"v":0.67},{"g":"S","c":120,"t":11.7,"v":0.53},{"g":"S","c":120,"t":13.2,"v":0.39},{"g":"S","c":120,"t":14.7,"v":0.32},{"g":"S","c":120,"t":16.2,"v":0.23},{"g":"S","c":120,"t":17.7,"v":0.2},{"g":"S","c":120,"t":19.2,"v":0.15},{"g":"S","c":120,"t":20.7,"v":0.13},{"g":"S","c":120,"t":22.2,"v":0.1},{"g":"S","c":120,"t":23.7,"v":0.09},{"g":"S","c":120,"t":25.2,"v":0.07},{"g":"S","c":120,"t":26,"v":0.07},
{"g":"S","c":121,"t":-5,"v":0.01},{"g":"S","c":121,"t":-0.4,"v":0.03},{"g":"S","c":121,"t":6.2,"v":1.0},{"g":"S","c":121,"t":8.4,"v":0.94},{"g":"S","c":121,"t":9.9,"v":0.78},{"g":"S","c":121,"t":11.4,"v":0.57},{"g":"S","c":121,"t":12.9,"v":0.38},{"g":"S","c":121,"t":14.4,"v":0.28},{"g":"S","c":121,"t":15.9,"v":0.19},{"g":"S","c":121,"t":17.4,"v":0.15},{"g":"S","c":121,"t":18.9,"v":0.11},{"g":"S","c":121,"t":20,"v":0.09},
{"g":"S","c":122,"t":-5,"v":0.02},{"g":"S","c":122,"t":-0.4,"v":0.01},{"g":"S","c":122,"t":6.3,"v":1.0},{"g":"S","c":122,"t":7.3,"v":0.97},{"g":"S","c":122,"t":8.8,"v":0.83},{"g":"S","c":122,"t":10.3,"v":0.67},{"g":"S","c":122,"t":11.8,"v":0.49},{"g":"S","c":122,"t":13.3,"v":0.38},{"g":"S","c":122,"t":14.8,"v":0.27},{"g":"S","c":122,"t":16.3,"v":0.23},{"g":"S","c":122,"t":17.8,"v":0.16},{"g":"S","c":122,"t":19.3,"v":0.14},{"g":"S","c":122,"t":20.8,"v":0.1},{"g":"S","c":122,"t":22.3,"v":0.09},{"g":"S","c":122,"t":23,"v":0.08},
{"g":"S","c":123,"t":-5,"v":0.01},{"g":"S","c":123,"t":-0.4,"v":0.02},{"g":"S","c":123,"t":6.5,"v":1.0},{"g":"S","c":123,"t":8.1,"v":0.95},{"g":"S","c":123,"t":9.6,"v":0.8},{"g":"S","c":123,"t":11.1,"v":0.61},{"g":"S","c":123,"t":12.6,"v":0.42},{"g":"S","c":123,"t":14.1,"v":0.32},{"g":"S","c":123,"t":15.6,"v":0.22},{"g":"S","c":123,"t":17.1,"v":0.18},{"g":"S","c":123,"t":18.6,"v":0.12},{"g":"S","c":123,"t":20.1,"v":0.1},{"g":"S","c":123,"t":21.6,"v":0.07},{"g":"S","c":123,"t":23.1,"v":0.06},{"g":"S","c":123,"t":24.6,"v":0.04},{"g":"S","c":123,"t":26.1,"v":0.04},{"g":"S","c":123,"t":27,"v":0.03},
{"g":"S","c":124,"t":-5,"v":0.02},{"g":"S","c":124,"t":-0.4,"v":0.02},{"g":"S","c":124,"t":6.7,"v":1.0},{"g":"S","c":124,"t":8.7,"v":0.94},{"g":"S","c":124,"t":10.2,"v":0.82},{"g":"S","c":124,"t":11.7,"v":0.64},{"g":"S","c":124,"t":13.2,"v":0.46},{"g":"S","c":124,"t":14.7,"v":0.35},{"g":"S","c":124,"t":16.2,"v":0.25},{"g":"S","c":124,"t":17.7,"v":0.2},{"g":"S","c":124,"t":19.2,"v":0.14},{"g":"S","c":124,"t":21,"v":0.11},
{"g":"S","c":125,"t":-5,"v":0.01},{"g":"S","c":125,"t":-0.4,"v":0.02},{"g":"S","c":125,"t":6.9,"v":1.0},{"g":"S","c":125,"t":8.2,"v":0.96},{"g":"S","c":125,"t":9.7,"v":0.83},{"g":"S","c":125,"t":11.2,"v":0.61},{"g":"S","c":125,"t":12.7,"v":0.46},{"g":"S","c":125,"t":14.2,"v":0.32},{"g":"S","c":125,"t":15.7,"v":0.25},{"g":"S","c":125,"t":17.2,"v":0.17},{"g":"S","c":125,"t":18.7,"v":0.15},{"g":"S","c":125,"t":20.2,"v":0.1},{"g":"S","c":125,"t":21.7,"v":0.09},{"g":"S","c":125,"t":23.2,"v":0.07},{"g":"S","c":125,"t":24,"v":0.06},
{"g":"S","c":126,"t":-5,"v":0.02},{"g":"S","c":126,"t":-0.4,"v":0.02},{"g":"S","c":126,"t":7.1,"v":1.0},{"g":"S","c":126,"t":9.1,"v":0.95},{"g":"S","c":126,"t":10.6,"v":0.85},{"g":"S","c":126,"t":12.1,"v":0.71},{"g":"S","c":126,"t":13.6,"v":0.54},{"g":"S","c":126,"t":15.1,"v":0.44},{"g":"S","c":126,"t":16.6,"v":0.33},{"g":"S","c":126,"t":18.1,"v":0.27},{"g":"S","c":126,"t":19.6,"v":0.21},{"g":"S","c":126,"t":21.1,"v":0.18},{"g":"S","c":126,"t":22.6,"v":0.15},{"g":"S","c":126,"t":24.1,"v":0.11},{"g":"S","c":126,"t":25,"v":0.1},
{"g":"S","c":127,"t":-5,"v":0.01},{"g":"S","c":127,"t":-0.4,"v":0.03},{"g":"S","c":127,"t":7.3,"v":1.0},{"g":"S","c":127,"t":8.8,"v":0.96},{"g":"S","c":127,"t":10.3,"v":0.82},{"g":"S","c":127,"t":11.8,"v":0.65},{"g":"S","c":127,"t":13.3,"v":0.47},{"g":"S","c":127,"t":14.8,"v":0.36},{"g":"S","c":127,"t":16.3,"v":0.26},{"g":"S","c":127,"t":17.8,"v":0.21},{"g":"S","c":127,"t":19.3,"v":0.15},{"g":"S","c":127,"t":20.8,"v":0.13},{"g":"S","c":127,"t":22,"v":0.1},
{"g":"S","c":128,"t":-5,"v":0.0},{"g":"S","c":128,"t":-0.4,"v":0.02},{"g":"S","c":128,"t":7.5,"v":1.0},{"g":"S","c":128,"t":9.5,"v":0.95},{"g":"S","c":128,"t":11,"v":0.84},{"g":"S","c":128,"t":12.5,"v":0.62},{"g":"S","c":128,"t":14,"v":0.47},{"g":"S","c":128,"t":15.5,"v":0.33},{"g":"S","c":128,"t":17,"v":0.26},{"g":"S","c":128,"t":18.5,"v":0.19},{"g":"S","c":128,"t":20,"v":0.15},{"g":"S","c":128,"t":21.5,"v":0.11},{"g":"S","c":128,"t":23,"v":0.1},{"g":"S","c":128,"t":24.5,"v":0.08},{"g":"S","c":128,"t":26,"v":0.06},
{"g":"S","c":129,"t":-5,"v":0.01},{"g":"S","c":129,"t":-0.4,"v":0.02},{"g":"S","c":129,"t":7.8,"v":1.0},{"g":"S","c":129,"t":9.3,"v":0.95},{"g":"S","c":129,"t":10.8,"v":0.85},{"g":"S","c":129,"t":12.3,"v":0.65},{"g":"S","c":129,"t":13.8,"v":0.51},{"g":"S","c":129,"t":15.3,"v":0.36},{"g":"S","c":129,"t":16.8,"v":0.29},{"g":"S","c":129,"t":18.3,"v":0.21},{"g":"S","c":129,"t":19.8,"v":0.18},{"g":"S","c":129,"t":21.3,"v":0.13},{"g":"S","c":129,"t":23,"v":0.1},
{"g":"S","c":130,"t":-5,"v":0.02},{"g":"S","c":130,"t":-0.4,"v":0.02},{"g":"S","c":130,"t":8,"v":1.0},{"g":"S","c":130,"t":9,"v":0.96},{"g":"S","c":130,"t":10.5,"v":0.82},{"g":"S","c":130,"t":12,"v":0.64},{"g":"S","c":130,"t":13.5,"v":0.46},{"g":"S","c":130,"t":15,"v":0.35},{"g":"S","c":130,"t":16.5,"v":0.25},{"g":"S","c":130,"t":18,"v":0.2},{"g":"S","c":130,"t":19.5,"v":0.14},{"g":"S","c":130,"t":20,"v":0.13},
{"g":"S","c":131,"t":-5,"v":0.01},{"g":"S","c":131,"t":-0.4,"v":0.02},{"g":"S","c":131,"t":3.3,"v":1.0},{"g":"S","c":131,"t":3.8,"v":0.96},{"g":"S","c":131,"t":5.3,"v":0.8},{"g":"S","c":131,"t":6.8,"v":0.55},{"g":"S","c":131,"t":8.3,"v":0.4},{"g":"S","c":131,"t":9.8,"v":0.27},{"g":"S","c":131,"t":11.3,"v":0.21},{"g":"S","c":131,"t":12.8,"v":0.14},{"g":"S","c":131,"t":14.3,"v":0.11},{"g":"S","c":131,"t":15.8,"v":0.08},{"g":"S","c":131,"t":17,"v":0.07},
{"g":"S","c":132,"t":-5,"v":0.0},{"g":"S","c":132,"t":-0.4,"v":0.01},{"g":"S","c":132,"t":4.2,"v":1.0},{"g":"S","c":132,"t":5.4,"v":0.95},{"g":"S","c":132,"t":6.9,"v":0.82},{"g":"S","c":132,"t":8.4,"v":0.59},{"g":"S","c":132,"t":9.9,"v":0.44},{"g":"S","c":132,"t":11.4,"v":0.3},{"g":"S","c":132,"t":12.9,"v":0.24},{"g":"S","c":132,"t":14.4,"v":0.16},{"g":"S","c":132,"t":15.9,"v":0.13},{"g":"S","c":132,"t":17.4,"v":0.1},{"g":"S","c":132,"t":18.9,"v":0.08},{"g":"S","c":132,"t":20,"v":0.07},
{"g":"S","c":133,"t":-5,"v":0.02},{"g":"S","c":133,"t":-0.4,"v":0.03},{"g":"S","c":133,"t":5.3,"v":1.0},{"g":"S","c":133,"t":5.8,"v":0.97},{"g":"S","c":133,"t":7.3,"v":0.77},{"g":"S","c":133,"t":8.8,"v":0.55},{"g":"S","c":133,"t":10.3,"v":0.36},{"g":"S","c":133,"t":11.8,"v":0.26},{"g":"S","c":133,"t":13.3,"v":0.18},{"g":"S","c":133,"t":14.8,"v":0.14},{"g":"S","c":133,"t":16.3,"v":0.1},{"g":"S","c":133,"t":17.8,"v":0.08},
{"g":"S","c":134,"t":-5,"v":0.01},{"g":"S","c":134,"t":-0.4,"v":0.02},{"g":"S","c":134,"t":6.1,"v":1.0},{"g":"S","c":134,"t":6.6,"v":0.97},{"g":"S","c":134,"t":8.1,"v":0.8},{"g":"S","c":134,"t":9.6,"v":0.6},{"g":"S","c":134,"t":11.1,"v":0.44},{"g":"S","c":134,"t":12.6,"v":0.3},{"g":"S","c":134,"t":14.1,"v":0.23},{"g":"S","c":134,"t":15.6,"v":0.17},{"g":"S","c":134,"t":17.1,"v":0.13},{"g":"S","c":134,"t":18.6,"v":0.1},{"g":"S","c":134,"t":20.1,"v":0.08},{"g":"S","c":134,"t":21,"v":0.07}
]},
"resolve": {"axis": {"x": "independent", "y": "independent"}},
"layer": [
{"transform": [{"filter": "datum.g == 'N'"}],
 "mark": {"type": "line", "strokeWidth": 1, "clip": true},
 "encoding": {
  "x": {"field": "t", "type": "quantitative", "scale": {"domain": [-4.95, 50.15], "nice": false, "zero": false},
   "axis": {"orient": "bottom", "values": [0,5,10,15,20,25,30,35,40,45,50], "labelExpr": "datum.value % 10 == 0 ? datum.label : ''", "grid": false, "tickSize": -5, "tickColor": "#222", "domainColor": "#222", "domainWidth": 2, "labelPadding": 12, "labelFlush": false, "labelFontSize": 17, "labelColor": "#111", "title": "Time (hours)", "titleFontSize": 21, "titleFontWeight": "normal", "titleColor": "#111", "titlePadding": 2, "titleX": 304}},
  "y": {"field": "v", "type": "quantitative", "scale": {"domain": [-0.0545, 1.069], "nice": false, "zero": false},
   "axis": {"orient": "left", "values": [0,0.1,0.2,0.3,0.4,0.5,0.6,0.7,0.8,0.9,1.0], "labelExpr": "round(datum.value*10) % 2 == 0 ? format(datum.value, '.1f') : ''", "grid": false, "tickSize": -5, "tickColor": "#222", "domainColor": "#222", "domainWidth": 2, "labelPadding": 11, "labelFlush": false, "labelFontSize": 17, "labelColor": "#111", "title": "PcomG-cfp (a.u.)", "titleFontSize": 20, "titleFontWeight": "normal", "titleColor": "#111", "titlePadding": 8}},
  "color": {"field": "g", "type": "nominal", "scale": {"domain": ["N", "S"], "range": ["#1a1a1a", "#e5281c"]},
   "legend": {"orient": "none", "legendX": 462, "legendY": 11, "title": null, "padding": 0, "labelExpr": "datum.value == 'N' ? 'Native' : 'SynEx'", "labelFontSize": 22, "labelColor": {"expr": "datum.value == 'N' ? '#1a1a1a' : '#e5281c'"}, "symbolSize": 0, "symbolStrokeWidth": 0, "symbolOpacity": 0, "labelOffset": 0, "rowPadding": 4}},
  "detail": {"field": "c", "type": "nominal"}
 }},
{"transform": [{"filter": "datum.g == 'S'"}],
 "mark": {"type": "line", "strokeWidth": 1, "clip": true},
 "encoding": {
  "x": {"field": "t", "type": "quantitative", "axis": null},
  "y": {"field": "v", "type": "quantitative", "axis": null},
  "color": {"field": "g", "type": "nominal"},
  "detail": {"field": "c", "type": "nominal"}
 }},
{"transform": [{"filter": "datum.c == 1 && datum.t < -4"}],
 "mark": {"type": "point", "opacity": 0},
 "encoding": {
  "x": {"field": "t", "type": "quantitative", "axis": {"orient": "top", "values": [0,5,10,15,20,25,30,35,40,45,50], "labels": false, "title": null, "domain": false, "grid": false, "tickSize": -5, "tickColor": "#444"}},
  "y": {"field": "v", "type": "quantitative", "axis": {"orient": "right", "values": [0,0.1,0.2,0.3,0.4,0.5,0.6,0.7,0.8,0.9,1.0], "labels": false, "title": null, "domain": false, "grid": false, "tickSize": -5, "tickColor": "#444"}}
 }}
]
}
